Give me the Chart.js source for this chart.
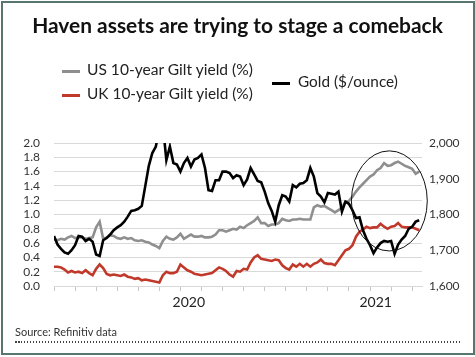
<!DOCTYPE html>
<html><head><meta charset="utf-8">
<script src="https://cdn.jsdelivr.net/npm/chart.js@4.4.0/dist/chart.umd.min.js"></script>
<style>
body{margin:0;background:#fff;}
#wrap{position:relative;width:475px;height:357px;overflow:hidden;font-family:Lato,sans-serif;background:#fff;}
#frame{position:absolute;left:1px;top:1px;width:474px;height:354px;box-sizing:border-box;border:2px solid #58756f;pointer-events:none;}
canvas{position:absolute;left:0;top:0;}
.t{position:absolute;white-space:nowrap;line-height:1;color:#222;}
.sw{position:absolute;height:3px;}
#dots{position:absolute;left:15px;top:341px;width:445px;height:2px;background:repeating-linear-gradient(to right,#444 0 1.5px,transparent 1.5px 3px);}
</style></head>
<body><div id="wrap">
<canvas id="c" width="475" height="357" style="width:475px;height:357px"></canvas>
<div id="title" class="t" style="font-weight:700;color:#111">Haven assets are trying to stage a comeback</div>
<div class="sw" id="swUS" style="background:#8f8f8f"></div>
<div class="sw" id="swUK" style="background:#c0392b"></div>
<div class="sw" id="swGold" style="background:#000"></div>
<div id="lgUS" class="t">US 10-year Gilt yield (%)</div>
<div id="lgUK" class="t">UK 10-year Gilt yield (%)</div>
<div id="lgGold" class="t">Gold ($/ounce)</div>
<div id="source" class="t" style="color:#333">Source: Refinitiv data</div>
<div id="dots"></div>
<div id="frame"></div>
</div>
<script>
// ---- data ----
const usYield = [
0.65,0.64,0.66,0.65,0.68,0.70,0.67,0.68,0.68,0.66,
0.67,0.68,0.82,0.90,0.66,0.68,0.71,0.70,0.67,0.66,
0.68,0.66,0.67,0.64,0.63,0.64,0.62,0.61,0.58,0.56,
0.53,0.63,0.69,0.66,0.65,0.68,0.73,0.66,0.69,0.72,
0.69,0.69,0.70,0.68,0.68,0.69,0.72,0.78,0.78,0.76,
0.78,0.80,0.79,0.83,0.81,0.85,0.88,0.91,0.96,0.88,
0.88,0.84,0.86,0.86,0.88,0.94,0.92,0.91,0.93,0.93,
0.94,0.93,0.93,0.93,1.10,1.13,1.11,1.12,1.09,1.06,
1.03,1.06,1.10,1.18,1.19,1.25,1.32,1.38,1.43,1.48,
1.53,1.56,1.62,1.65,1.72,1.68,1.69,1.72,1.74,1.71,
1.68,1.66,1.64,1.57,1.60];
const ukYield = [
0.27,0.27,0.26,0.23,0.19,0.21,0.19,0.20,0.18,0.22,
0.18,0.15,0.24,0.30,0.25,0.17,0.15,0.16,0.15,0.14,
0.16,0.13,0.12,0.10,0.11,0.08,0.09,0.08,0.07,0.06,
0.05,0.15,0.20,0.18,0.18,0.20,0.30,0.26,0.22,0.20,
0.17,0.16,0.15,0.16,0.17,0.18,0.22,0.26,0.24,0.21,
0.16,0.13,0.21,0.20,0.24,0.23,0.33,0.40,0.43,0.38,
0.37,0.36,0.35,0.37,0.36,0.29,0.25,0.23,0.30,0.27,
0.31,0.27,0.31,0.27,0.31,0.33,0.37,0.32,0.31,0.31,
0.29,0.36,0.43,0.50,0.52,0.57,0.69,0.76,0.79,0.83,
0.81,0.82,0.82,0.87,0.83,0.80,0.83,0.84,0.88,0.83,
0.82,0.82,0.82,0.80,0.78];
const gold = [
1740,1716,1704,1694,1690,1700,1714,1740,1738,1726,
1732,1724,1688,1684,1728,1734,1744,1756,1764,1770,
1780,1794,1810,1812,1816,1824,1880,1936,1972,1990,
2040,2050,1952,1990,1944,1940,1920,1944,1958,1934,
1954,1958,1968,1930,1868,1866,1896,1896,1920,1920,
1916,1902,1910,1906,1882,1898,1930,1912,1894,1890,
1864,1832,1810,1780,1826,1854,1850,1836,1882,1876,
1886,1888,1896,1930,1906,1860,1850,1834,1860,1858,
1856,1864,1808,1836,1830,1812,1790,1792,1756,1732,
1714,1692,1708,1720,1726,1724,1726,1690,1716,1730,
1740,1760,1766,1780,1784];
const periods = usYield.map((_, i) => i);          // sample index along the time axis
const xTickMarks = [0,6,12,18,24,30,36,42,48,54,60,66,72,78,84,90,96,102];
const xLabels = ['2020', '2021'];
const xLabelAt = [38.4, 91.6];
const leftTicks = [0,0.2,0.4,0.6,0.8,1.0,1.2,1.4,1.6,1.8,2.0];
const rightTicks = [1600,1700,1800,1900,2000];

// ---- text placement ----
function place(id, opt) {
  const el = document.getElementById(id);
  el.style.fontSize = '20px';
  const w = el.getBoundingClientRect().width;
  const fs = 20 * opt.width / w;
  el.style.fontSize = fs + 'px';
  const w2 = el.getBoundingClientRect().width;
  el.style.left = (opt.cx !== undefined ? opt.cx - w2 / 2 : opt.left) + 'px';
  el.style.top = (opt.cy - 0.53 * fs) + 'px';
}
place('title', {cx: 237.5, cy: 25.8, width: 411});
place('lgUS', {left: 87, cy: 70.5, width: 166});
place('lgUK', {left: 87, cy: 94, width: 166});
place('lgGold', {left: 298, cy: 82.5, width: 100});
place('source', {left: 15, cy: 332, width: 102});
function sw(id, x1, x2, cy) {
  const el = document.getElementById(id);
  el.style.left = x1 + 'px'; el.style.width = (x2 - x1) + 'px'; el.style.top = (cy - 1.5) + 'px';
}
sw('swUS', 62, 80, 71.5);
sw('swUK', 62, 80, 95);
sw('swGold', 272, 290, 83.3);

// ---- chart ----
const ellipsePlugin = {
  id: 'ellipse',
  afterDatasetsDraw(chart) {
    const {ctx, scales: {x, y}} = chart;
    const cx = x.getPixelForValue(95.5), cy = y.getPixelForValue(1.19);
    const rx = x.getPixelForValue(95.5 + 10.8) - cx;
    const ry = cy - y.getPixelForValue(1.19 + 0.70);
    ctx.save();
    ctx.beginPath();
    ctx.ellipse(cx, cy, rx, ry, 0, 0, Math.PI * 2);
    ctx.strokeStyle = '#111'; ctx.lineWidth = 1;
    ctx.stroke();
    ctx.restore();
  }
};
const pts = arr => arr.map((v, i) => ({x: periods[i], y: v}));
new Chart(document.getElementById('c'), {
  type: 'line',
  data: {datasets: [
    {label: 'Gold ($/ounce)', data: pts(gold), yAxisID: 'y2', borderColor: '#000', borderWidth: 2.6, pointRadius: 0, tension: 0},
    {label: 'US 10-year Gilt yield (%)', data: pts(usYield), yAxisID: 'y', borderColor: '#8f8f8f', borderWidth: 2.6, pointRadius: 0, tension: 0},
    {label: 'UK 10-year Gilt yield (%)', data: pts(ukYield), yAxisID: 'y', borderColor: '#c0392b', borderWidth: 2.6, pointRadius: 0, tension: 0}
  ]},
  options: {
    responsive: false, animation: false, devicePixelRatio: 1,
    layout: {padding: {top: 143, left: 0, right: 0, bottom: 0}},
    plugins: {legend: {display: false}, title: {display: false}, tooltip: {enabled: false}},
    scales: {
      x: {
        type: 'linear', min: 0, max: 104.8,
        afterBuildTicks: s => { s.ticks = xTickMarks.concat(xLabelAt).sort((a, b) => a - b).map(v => ({value: v})); },
        afterFit: s => { s.height = 71; },
        grid: {drawOnChartArea: false, drawTicks: true, tickLength: 5,
               color: c => (c.tick && xLabelAt.includes(c.tick.value)) ? 'rgba(0,0,0,0)' : '#c8c8c8'},
        border: {display: true, color: '#d9d9d9'},
        ticks: {autoSkip: false, maxRotation: 0, padding: 3, color: '#222',
                font: {family: 'Lato', size: 14},
                callback: v => { const k = xLabelAt.indexOf(v); return k >= 0 ? xLabels[k] : ''; }}
      },
      y: {
        position: 'left', min: 0, max: 2,
        afterBuildTicks: s => { s.ticks = leftTicks.map(v => ({value: v})); },
        afterFit: s => { s.width = 54; },
        grid: {color: '#d9d9d9', drawTicks: false},
        border: {display: false},
        ticks: {autoSkip: false, padding: 14, color: '#333', font: {family: 'Lato', size: 12}, callback: v => v.toFixed(1)}
      },
      y2: {
        position: 'right', min: 1600, max: 2000,
        afterBuildTicks: s => { s.ticks = rightTicks.map(v => ({value: v})); },
        afterFit: s => { s.width = 53; },
        grid: {drawOnChartArea: false, drawTicks: false},
        border: {display: false},
        ticks: {autoSkip: false, padding: 7, color: '#333', font: {family: 'Lato', size: 12}, callback: v => v.toLocaleString('en-US')}
      }
    }
  },
  plugins: [ellipsePlugin]
});
</script>
</body></html>
